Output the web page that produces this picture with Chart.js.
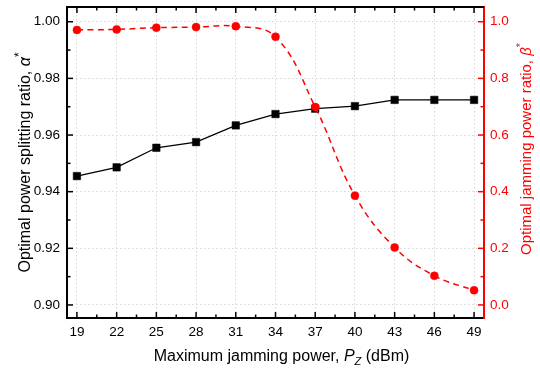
<!DOCTYPE html>
<html>
<head>
<meta charset="utf-8">
<script src="https://cdn.jsdelivr.net/npm/chart.js@4"></script>
<style>
html, body { margin: 0; padding: 0; background: #fff; }
</style>
</head>
<body>
<canvas id="chart" width="540" height="368"></canvas>
<script>
// jamming power (dBm) on x, two ratios on two y axes
const jammingPower = [19, 22, 25, 28, 31, 34, 37, 40, 43, 46, 49];
const alphaOpt = [0.9455, 0.9486, 0.9555, 0.9575, 0.9634, 0.9674, 0.9693, 0.9702, 0.9724, 0.9724, 0.9724];
const betaOpt = [0.971, 0.973, 0.979, 0.981, 0.984, 0.947, 0.699, 0.386, 0.203, 0.103, 0.052];
const leftTicks = [0.90, 0.92, 0.94, 0.96, 0.98, 1.00];
const rightTicks = [0.0, 0.2, 0.4, 0.6, 0.8, 1.0];

const FONT = 'Arial, "Liberation Sans", sans-serif';
const RED = '#ff0000';

function line(ctx, x1, y1, x2, y2) {
    ctx.beginPath();
    ctx.moveTo(x1, y1);
    ctx.lineTo(x2, y2);
    ctx.stroke();
}

// draws a title made of pieces with different font styles
function drawRich(ctx, parts, x, y, angle) {
    ctx.save();
    ctx.translate(x, y);
    ctx.rotate(angle);
    ctx.textAlign = 'left';
    ctx.textBaseline = 'alphabetic';
    let total = 0;
    parts.forEach(p => { ctx.font = p.font; p.w = ctx.measureText(p.text).width; total += p.w; });
    let cx = -total / 2;
    parts.forEach(p => {
        ctx.font = p.font;
        ctx.fillStyle = p.color;
        ctx.fillText(p.text, cx, p.dy || 0);
        cx += p.w;
    });
    ctx.restore();
}

const framePlugin = {
    id: 'frame',
    afterDraw(chart) {
        const { ctx, chartArea: a, scales } = chart;
        ctx.save();
        ctx.lineCap = 'butt';

        // top border
        ctx.strokeStyle = '#000';
        ctx.lineWidth = 2;
        line(ctx, a.left - 1, a.top, a.right, a.top);

        // inward ticks on bottom and top
        ctx.lineWidth = 1.5;
        jammingPower.forEach((v, i) => {
            const x = scales.x.getPixelForValue(v);
            line(ctx, x, a.bottom, x, a.bottom - 6);
            line(ctx, x, a.top, x, a.top + 6);
            if (i < jammingPower.length - 1) {
                const xm = scales.x.getPixelForValue(v + 1.5);
                line(ctx, xm, a.bottom, xm, a.bottom - 3.5);
                line(ctx, xm, a.top, xm, a.top + 3.5);
            }
        });

        // left axis ticks
        leftTicks.forEach((v, i) => {
            const y = scales.y.getPixelForValue(v);
            line(ctx, a.left, y, a.left + 6, y);
            if (i < leftTicks.length - 1) {
                const ym = scales.y.getPixelForValue(v + 0.01);
                line(ctx, a.left, ym, a.left + 3.5, ym);
            }
        });

        // right axis ticks in red
        ctx.strokeStyle = RED;
        rightTicks.forEach((v, i) => {
            const y = scales.y1.getPixelForValue(v);
            line(ctx, a.right, y, a.right - 6, y);
            if (i < rightTicks.length - 1) {
                const ym = scales.y1.getPixelForValue(v + 0.1);
                line(ctx, a.right, ym, a.right - 3.5, ym);
            }
        });

        // axis titles
        drawRich(ctx, [
            { text: 'Maximum jamming power, ', font: '16px ' + FONT, color: '#000' },
            { text: 'P', font: 'italic 16px ' + FONT, color: '#000' },
            { text: 'Z', font: 'italic 11px ' + FONT, color: '#000', dy: 4 },
            { text: ' (dBm)', font: '16px ' + FONT, color: '#000' }
        ], (a.left + a.right) / 2 + 6, 361, 0);

        drawRich(ctx, [
            { text: 'Optimal power splitting ratio, ', font: '16px ' + FONT, color: '#000' },
            { text: 'α', font: 'italic 16px ' + FONT, color: '#000' },
            { text: '*', font: '12px ' + FONT, color: '#000', dy: -7 }
        ], 30, (a.top + a.bottom) / 2, -Math.PI / 2);

        drawRich(ctx, [
            { text: 'Optimal jamming power ratio, ', font: '15px ' + FONT, color: RED },
            { text: 'β', font: 'italic 15px ' + FONT, color: RED },
            { text: '*', font: '11px ' + FONT, color: RED, dy: -7 }
        ], 531, 149, -Math.PI / 2);

        ctx.restore();
    }
};

function fixTicks(values) {
    return function(scale) {
        scale.ticks = values.map(v => ({ value: v }));
    };
}

const ctx = document.getElementById('chart').getContext('2d');
new Chart(ctx, {
    type: 'line',
    data: {
        datasets: [
            {
                label: 'beta',
                data: jammingPower.map((x, i) => ({ x: x, y: betaOpt[i] })),
                yAxisID: 'y1',
                order: 0,
                borderColor: RED,
                backgroundColor: RED,
                borderWidth: 1.5,
                borderDash: [6, 4.5],
                tension: 0.4,
                pointStyle: 'circle',
                pointRadius: 4,
                pointBorderWidth: 0.5,
                fill: false
            },
            {
                label: 'alpha',
                data: jammingPower.map((x, i) => ({ x: x, y: alphaOpt[i] })),
                yAxisID: 'y',
                order: 1,
                borderColor: '#000',
                backgroundColor: '#000',
                borderWidth: 1.3,
                tension: 0,
                pointStyle: 'rect',
                pointRadius: 5.3,
                pointBorderWidth: 0.5,
                fill: false
            }
        ]
    },
    options: {
        responsive: false,
        animation: false,
        devicePixelRatio: 1,
        layout: { padding: { top: 7, left: 0, right: 0, bottom: 0 } },
        plugins: {
            legend: { display: false },
            tooltip: { enabled: false }
        },
        scales: {
            x: {
                type: 'linear',
                position: 'bottom',
                min: 18.25,
                max: 49.75,
                afterBuildTicks: fixTicks(jammingPower),
                afterFit: function(s) { s.height = 50; s.paddingLeft = 0; s.paddingRight = 0; },
                ticks: {
                    color: '#000',
                    font: { family: FONT, size: 13.5 },
                    padding: 6,
                    maxRotation: 0,
                    callback: v => String(v)
                },
                grid: { color: '#d6d6d6', lineWidth: 1, drawTicks: false },
                border: { display: true, color: '#000', width: 2, dash: [1.5, 2.5] }
            },
            y: {
                type: 'linear',
                position: 'left',
                min: 0.8954,
                max: 1.0052,
                afterBuildTicks: fixTicks(leftTicks),
                afterFit: function(s) { s.width = 67; s.paddingTop = 0; s.paddingBottom = 0; },
                ticks: {
                    color: '#000',
                    font: { family: FONT, size: 13.5 },
                    padding: 7,
                    callback: v => v.toFixed(2)
                },
                grid: { color: '#d6d6d6', lineWidth: 1, drawTicks: false },
                border: { display: true, color: '#000', width: 2, dash: [1.5, 2.5] }
            },
            y1: {
                type: 'linear',
                position: 'right',
                min: -0.046,
                max: 1.052,
                afterBuildTicks: fixTicks(rightTicks),
                afterFit: function(s) { s.width = 56; s.paddingTop = 0; s.paddingBottom = 0; },
                ticks: {
                    color: RED,
                    font: { family: FONT, size: 13.5 },
                    padding: 6,
                    callback: v => v.toFixed(1)
                },
                grid: { display: false, drawTicks: false },
                border: { display: true, color: RED, width: 2 }
            }
        }
    },
    plugins: [framePlugin]
});
</script>
</body>
</html>
